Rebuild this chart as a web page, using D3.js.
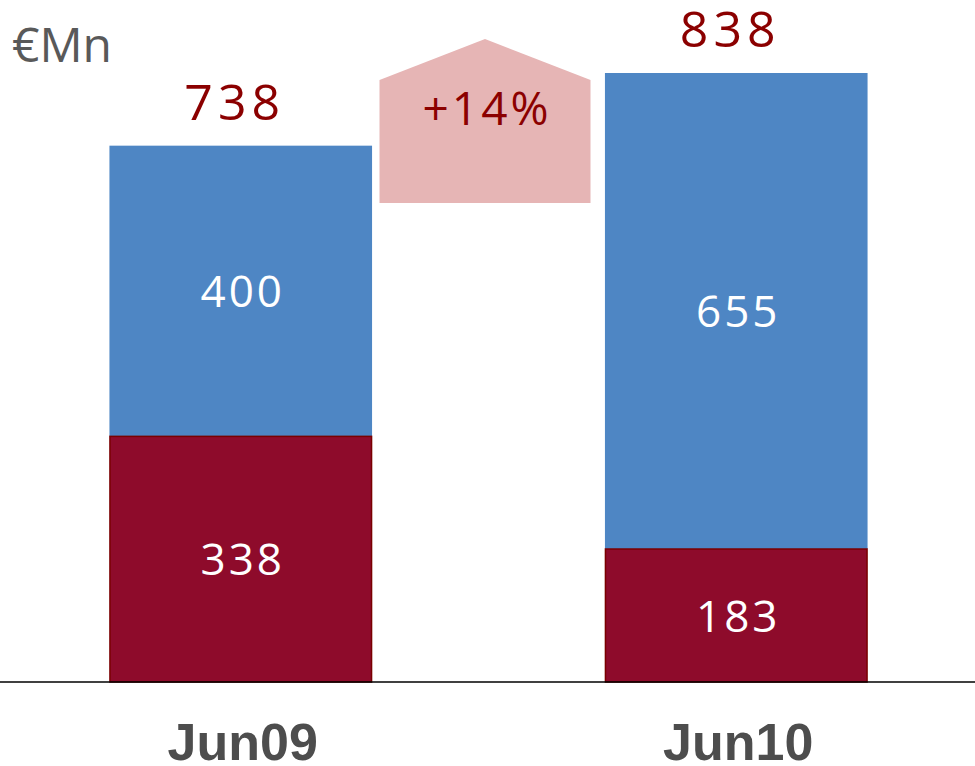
<!DOCTYPE html>
<html>
<head>
<meta charset="utf-8">
<script src="https://cdn.jsdelivr.net/npm/d3@7"></script>
<style>
  html, body { margin: 0; padding: 0; background: #fff; }
  svg { display: block; }
  .num { font-family: "Open Sans", "Noto Sans", sans-serif; letter-spacing: 3px; }
  .cat { font-family: "Liberation Sans", Arial, sans-serif; font-weight: bold; }
</style>
</head>
<body>
<div id="chart"></div>
<script>
// data
const categories = ["Jun09", "Jun10"];
const bottomValues = [338, 183];
const topValues = [400, 655];
const totals = [738, 838];
const growthLabel = "+14%";
const unitLabel = "€Mn";

const width = 975, height = 766;
const baseY = 682;

const svg = d3.select("#chart").append("svg")
    .attr("width", width)
    .attr("height", height);

const x = d3.scaleBand()
    .domain(categories)
    .range([-7, 984])
    .paddingInner(0.47)
    .paddingOuter(0.235);

const y = d3.scaleLinear()
    .domain([0, 838])
    .range([baseY, 73]);

const rows = categories.map((c, i) => ({
    cat: c, bottom: bottomValues[i], top: topValues[i], total: totals[i]
}));

// unit label
svg.append("text")
    .attr("class", "num")
    .attr("x", 12)
    .attr("y", 62)
    .attr("fill", "#595959")
    .style("font-size", "48px")
    .style("letter-spacing", "0px")
    .text(unitLabel);

// growth arrow
const ax = 485, aw = 211;
svg.append("path")
    .attr("d", `M${ax - aw / 2},80 L${ax},39 L${ax + aw / 2},80 L${ax + aw / 2},203 L${ax - aw / 2},203 Z`)
    .attr("fill", "#e6b5b5");
svg.append("text")
    .attr("class", "num")
    .attr("x", ax + 2)
    .attr("y", 125)
    .attr("text-anchor", "middle")
    .attr("fill", "#8b0000")
    .style("font-size", "46px")
    .text(growthLabel);

// bars
const g = svg.selectAll(".bar").data(rows).enter().append("g").attr("class", "bar");

g.append("rect")
    .attr("x", d => x(d.cat))
    .attr("width", x.bandwidth())
    .attr("y", d => y(d.bottom + d.top))
    .attr("height", d => y(d.bottom) - y(d.bottom + d.top))
    .attr("fill", "#4e86c4");

g.append("rect")
    .attr("x", d => x(d.cat) + 0.5)
    .attr("width", x.bandwidth() - 1)
    .attr("y", d => y(d.bottom))
    .attr("height", d => y(0) - y(d.bottom))
    .attr("fill", "#8e0b2b")
    .attr("stroke", "#7a0000")
    .attr("stroke-width", 1.5);

const cx = d => x(d.cat) + x.bandwidth() / 2;

g.append("text")
    .attr("class", "num")
    .attr("x", d => cx(d) + 2)
    .attr("y", d => (y(d.bottom) + y(d.bottom + d.top)) / 2 + 16)
    .attr("text-anchor", "middle")
    .attr("fill", "#fff")
    .style("font-size", "44px")
    .text(d => d.top);

g.append("text")
    .attr("class", "num")
    .attr("x", d => cx(d) + 2)
    .attr("y", d => (y(0) + y(d.bottom)) / 2 + 16)
    .attr("text-anchor", "middle")
    .attr("fill", "#fff")
    .style("font-size", "44px")
    .text(d => d.bottom);

g.append("text")
    .attr("class", "num")
    .attr("x", d => cx(d) - 6)
    .attr("y", d => y(d.total) - 26)
    .attr("text-anchor", "middle")
    .attr("fill", "#8b0000")
    .style("font-size", "50px")
    .style("letter-spacing", "5px")
    .text(d => d.total);

// baseline
svg.append("line")
    .attr("x1", 0).attr("x2", width)
    .attr("y1", baseY).attr("y2", baseY)
    .attr("stroke", "#000")
    .attr("stroke-width", 1.5);

// category labels
g.append("text")
    .attr("class", "cat")
    .attr("x", d => cx(d) + 2)
    .attr("y", 760)
    .attr("text-anchor", "middle")
    .attr("fill", "#4d4d4d")
    .style("font-size", "52px")
    .text(d => d.cat);
</script>
</body>
</html>
